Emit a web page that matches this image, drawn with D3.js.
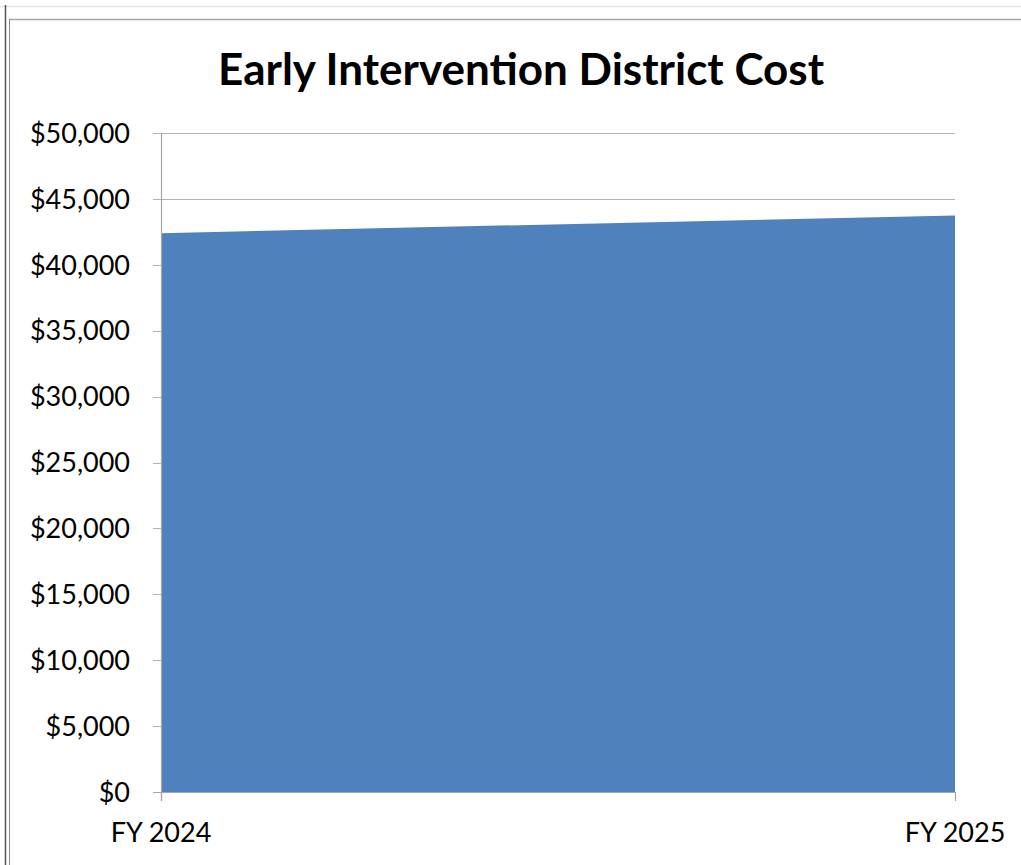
<!DOCTYPE html>
<html><head><meta charset="utf-8">
<script src="https://cdn.jsdelivr.net/npm/d3@7"></script>
<style>body{margin:0;background:#fff;}svg{display:block;}</style>
</head><body>
<svg id="c" width="1021" height="865"></svg>
<script>
const categories = ["FY 2024", "FY 2025"];
const costs = [42400, 43750];
const yTicks = [0, 5000, 10000, 15000, 20000, 25000, 30000, 35000, 40000, 45000, 50000];
const title = "Early Intervention District Cost";

(function(){
const svg = d3.select("#c");
const font = "Lato, 'Open Sans', sans-serif";

// frame lines
svg.append("line").attr("x1",0).attr("x2",1021).attr("y1",6.5).attr("y2",6.5).attr("stroke","#e6e6e6").attr("stroke-width",1.5);
svg.append("line").attr("x1",9).attr("x2",1021).attr("y1",19.5).attr("y2",19.5).attr("stroke","#a6a6a6").attr("stroke-width",1.5);
svg.append("line").attr("x1",5.5).attr("x2",5.5).attr("y1",5).attr("y2",865).attr("stroke","#555").attr("stroke-width",1.5);
svg.append("line").attr("x1",9.5).attr("x2",9.5).attr("y1",19).attr("y2",865).attr("stroke","#8a8a8a").attr("stroke-width",1);

const pl = 161, pr = 955, pt = 133, pb = 792;
const x = d3.scalePoint().domain(categories).range([pl, pr]);
const y = d3.scaleLinear().domain([0, 50000]).range([pb, pt]);

// gridlines
svg.append("g").selectAll("line").data(yTicks.filter(d=>d>0)).join("line")
  .attr("x1", pl - 8).attr("x2", pr)
  .attr("y1", d=>Math.round(y(d))+0.5).attr("y2", d=>Math.round(y(d))+0.5)
  .attr("stroke","#b3b3b3").attr("stroke-width",1.2);

// area
const area = d3.area().x((d,i)=>x(categories[i])).y0(y(0)).y1(d=>y(d));
svg.append("path").datum(costs).attr("d", area).attr("fill","#4f81bd");

// y axis line
svg.append("line").attr("x1",pl+0.5).attr("x2",pl+0.5).attr("y1",pt).attr("y2",pb+9).attr("stroke","#a6a6a6").attr("stroke-width",1.2);
// x axis line
svg.append("line").attr("x1",pl-8).attr("x2",pr).attr("y1",pb+0.5).attr("y2",pb+0.5).attr("stroke","#a6a6a6").attr("stroke-width",1.2);
// x ticks
svg.append("g").selectAll("line").data(categories).join("line")
  .attr("x1", d=>x(d)+0.5).attr("x2", d=>x(d)+0.5).attr("y1",pb).attr("y2",pb+9)
  .attr("stroke","#a6a6a6").attr("stroke-width",1.2);

// y labels
svg.append("g").selectAll("text").data(yTicks).join("text")
  .attr("x", 130).attr("y", d=>y(d)).attr("dy","0.36em")
  .attr("text-anchor","end").attr("font-family",font).attr("font-size",27)
  .attr("fill","#000").text(d=>"$"+d3.format(",")(d));

// x labels
svg.append("g").selectAll("text").data(categories).join("text")
  .attr("x", d=>x(d)).attr("y", 842)
  .attr("text-anchor","middle").attr("font-family",font).attr("font-size",27)
  .attr("fill","#000").text(d=>d);

// title
svg.append("text").attr("x",521).attr("y",85).attr("text-anchor","middle")
  .attr("font-family",font).attr("font-weight","bold").attr("font-size",44)
  .attr("fill","#000").text(title);
})();
</script>
</body></html>
